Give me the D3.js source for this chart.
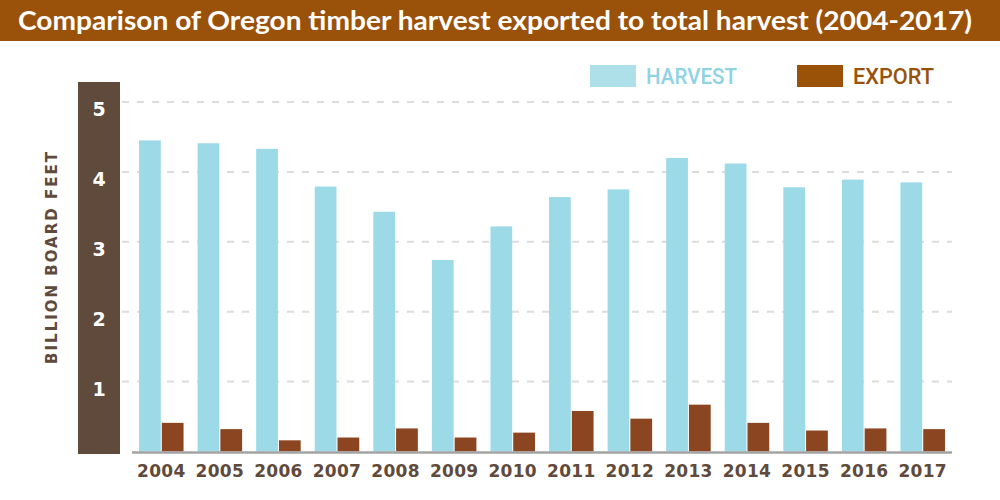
<!DOCTYPE html>
<html>
<head>
<meta charset="utf-8">
<script src="https://cdn.jsdelivr.net/npm/d3@7"></script>
<style>
  body { margin: 0; background: #fff; }
  svg { display: block; }
</style>
</head>
<body>
<div id="chart"></div>
<script>
// Oregon timber harvest vs export, billion board feet
const years = ["2004", "2005", "2006", "2007", "2008", "2009", "2010",
               "2011", "2012", "2013", "2014", "2015", "2016", "2017"];
const harvest = [4.45, 4.41, 4.33, 3.79, 3.43, 2.74, 3.22, 3.64, 3.75, 4.20, 4.12, 3.78, 3.89, 3.85];
const exported = [0.41, 0.32, 0.16, 0.20, 0.33, 0.20, 0.27, 0.58, 0.47, 0.67, 0.41, 0.30, 0.33, 0.32];
const yTicks = [1, 2, 3, 4, 5];
const seriesNames = ["HARVEST", "EXPORT"];

const width = 1000, height = 500;
const brown = "#5f4a3b";

const svg = d3.select("#chart").append("svg")
    .attr("width", width)
    .attr("height", height);

// Title bar
svg.append("rect")
    .attr("x", 0).attr("y", 0)
    .attr("width", width).attr("height", 41)
    .attr("fill", "#9a520a");

svg.append("text")
    .attr("x", 18).attr("y", 30)
    .attr("fill", "#fff")
    .attr("font-family", "Lato, 'Open Sans', sans-serif")
    .attr("font-weight", 700)
    .attr("font-size", 26)
    .attr("textLength", 954)
    .attr("lengthAdjust", "spacingAndGlyphs")
    .text("Comparison of Oregon timber harvest exported to total harvest (2004-2017)");

// Scales
const x = d3.scaleBand()
    .domain(years)
    .range([132, 952])
    .paddingInner(0.24)
    .paddingOuter(0.12);

const sub = d3.scaleBand()
    .domain(seriesNames)
    .range([0, x.bandwidth()])
    .paddingInner(0.045);

const y = d3.scaleLinear()
    .domain([0, 5])
    .range([451.5, 102]);

// Y axis band
svg.append("rect")
    .attr("x", 78).attr("y", 82)
    .attr("width", 42).attr("height", 372)
    .attr("fill", brown);

// Gridlines
svg.append("g")
    .selectAll("line")
    .data(yTicks)
    .join("line")
    .attr("x1", 122).attr("x2", 952)
    .attr("y1", d => y(d)).attr("y2", d => y(d))
    .attr("stroke", "#dcdcdc")
    .attr("stroke-width", 2)
    .attr("stroke-dasharray", "7,8");

// Tick labels inside the band
svg.append("g")
    .selectAll("text")
    .data(yTicks)
    .join("text")
    .attr("x", 99)
    .attr("y", d => y(d) + 14)
    .attr("text-anchor", "middle")
    .attr("fill", "#fff")
    .attr("font-family", "'DejaVu Sans', sans-serif")
    .attr("font-weight", 700)
    .attr("font-size", 19)
    .text(d => d);

// Y axis title
svg.append("text")
    .attr("transform", "translate(57,257) rotate(-90)")
    .attr("text-anchor", "middle")
    .attr("fill", brown)
    .attr("font-family", "'DejaVu Sans', sans-serif")
    .attr("font-weight", 700)
    .attr("font-size", 15)
    .attr("letter-spacing", 2)
    .text("BILLION BOARD FEET");

// Bars
const groups = svg.append("g")
    .selectAll("g")
    .data(years)
    .join("g")
    .attr("transform", d => `translate(${x(d)},0)`);

groups.append("rect")
    .attr("x", sub("HARVEST"))
    .attr("width", sub.bandwidth())
    .attr("y", (d, i) => y(harvest[i]))
    .attr("height", (d, i) => y(0) - y(harvest[i]))
    .attr("fill", "#9ddae8");

groups.append("rect")
    .attr("x", sub("EXPORT"))
    .attr("width", sub.bandwidth())
    .attr("y", (d, i) => y(exported[i]))
    .attr("height", (d, i) => y(0) - y(exported[i]))
    .attr("fill", "#8b4520");

// Baseline
svg.append("line")
    .attr("x1", 132).attr("x2", 952)
    .attr("y1", y(0) + 1).attr("y2", y(0) + 1)
    .attr("stroke", "#a3a3a3")
    .attr("stroke-width", 2.5);

// X labels
svg.append("g")
    .selectAll("text")
    .data(years)
    .join("text")
    .attr("x", d => x(d) + x.bandwidth() / 2)
    .attr("y", 477)
    .attr("text-anchor", "middle")
    .attr("fill", brown)
    .attr("font-family", "'DejaVu Sans', sans-serif")
    .attr("font-weight", 700)
    .attr("font-size", 17)
    .attr("letter-spacing", 0.3)
    .text(d => d);

// Legend
const legend = [
  { name: "HARVEST", swatch: "#ade0e8", text: "#8fd3e3", x: 590, w: 91 },
  { name: "EXPORT", swatch: "#9a5209", text: "#9a520a", x: 797, w: 81 }
];
const lg = svg.append("g").selectAll("g").data(legend).join("g")
    .attr("transform", d => `translate(${d.x},65)`);
lg.append("rect")
    .attr("width", 46).attr("height", 22)
    .attr("fill", d => d.swatch);
lg.append("text")
    .attr("x", 56).attr("y", 19)
    .attr("fill", d => d.text)
    .attr("font-family", "Roboto, sans-serif")
    .attr("font-weight", 500)
    .attr("font-size", 22)
    .attr("textLength", d => d.w)
    .attr("lengthAdjust", "spacingAndGlyphs")
    .text(d => d.name);
</script>
</body>
</html>
